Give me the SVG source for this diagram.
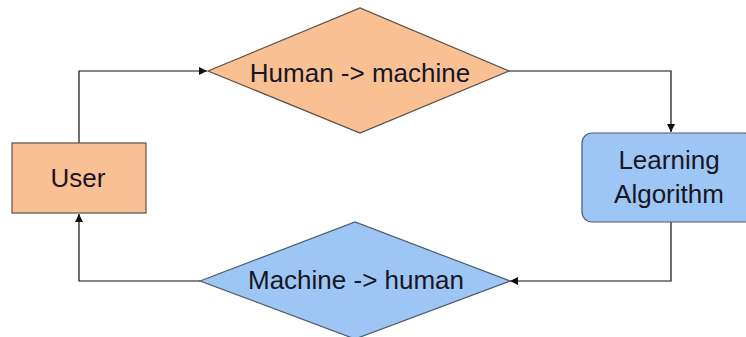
<svg xmlns="http://www.w3.org/2000/svg" width="746" height="337" viewBox="0 0 746 337">
  <style>
    .warm { fill: #f9c193; stroke: #5a5048; stroke-width: 1.2; }
    .cool { fill: #9ec6f4; stroke: #4c5a6e; stroke-width: 1.2; }
    .label { font-family: "Liberation Sans", Arial, sans-serif; font-size: 26px; fill: #161626; text-anchor: middle; }
    .link { fill: none; stroke: #111; stroke-width: 1.2; }
  </style>
  <defs>
    <marker id="arrow" viewBox="0 0 10 10" refX="10" refY="5" markerWidth="8" markerHeight="8" markerUnits="userSpaceOnUse" orient="auto">
      <path d="M0,0 L10,5 L0,10 z" fill="#111"/>
    </marker>
  </defs>
  <rect width="746" height="337" fill="#ffffff"/>

  <g id="connectors">
    <path class="link" d="M79,143 V71 H207" marker-end="url(#arrow)"/>
    <path class="link" d="M509,71 H671 V132" marker-end="url(#arrow)"/>
    <path class="link" d="M671,222 V281 H510" marker-end="url(#arrow)"/>
    <path class="link" d="M200,281 H79 V214" marker-end="url(#arrow)"/>
  </g>

  <g id="user">
    <rect class="warm" x="12" y="143" width="134" height="70"/>
    <text class="label" x="78" y="187">User</text>
  </g>

  <g id="human-to-machine">
    <polygon class="warm" points="208,71 360,8 509,71 360,133"/>
    <text class="label" x="360" y="82">Human -&gt; machine</text>
  </g>

  <g id="learning-algorithm">
    <rect class="cool" x="582" y="133" width="172" height="89" rx="10" ry="10"/>
    <text class="label" x="669" y="169">Learning</text>
    <text class="label" x="669" y="203">Algorithm</text>
  </g>

  <g id="machine-to-human">
    <polygon class="cool" points="200,281 355,222 510,281 355,339"/>
    <text class="label" x="356" y="289">Machine -&gt; human</text>
  </g>
</svg>
